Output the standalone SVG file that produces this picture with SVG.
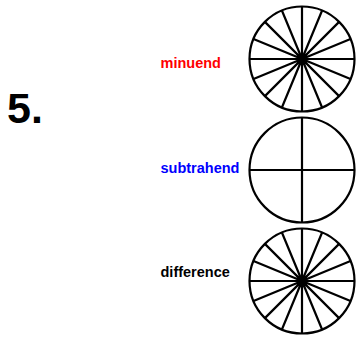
<svg xmlns="http://www.w3.org/2000/svg" xmlns:xlink="http://www.w3.org/1999/xlink" width="356" height="337" viewBox="0 0 356 337">
<style>
.lbl{font-family:"Liberation Sans",Arial,sans-serif;font-weight:bold;font-size:14.5px}
.rim{fill:none;stroke:#000;stroke-width:2.2}
.sp{stroke:#000;stroke-width:2.2;fill:none}
</style>
<defs>
<g id="wheel16">
<circle class="rim" r="52.5"/>
<path class="sp" d="M0,-52.5V52.5M-52.5,0H52.5M-20.1,-48.5L20.1,48.5M20.1,-48.5L-20.1,48.5M-37.1,-37.1L37.1,37.1M37.1,-37.1L-37.1,37.1M-48.5,-20.1L48.5,20.1M48.5,-20.1L-48.5,20.1"/>
<circle r="4" fill="#000"/>
</g>
</defs>
<rect width="356" height="337" fill="#fff"/>
<text class="lbl" x="7" y="123" style="font-size:43px">5.</text>
<g id="minuend">
<text class="lbl" x="160.5" y="67.5" fill="#ff0000">minuend</text>
<use xlink:href="#wheel16" x="302" y="59"/>
</g>
<g id="subtrahend">
<text class="lbl" x="160.5" y="172.5" fill="#0000ff">subtrahend</text>
<circle class="rim" cx="302" cy="170" r="52.5"/>
<path class="sp" d="M302,117.5V222.5M249.5,170H354.5"/>
</g>
<g id="difference">
<text class="lbl" x="160.5" y="277" fill="#000">difference</text>
<use xlink:href="#wheel16" x="302" y="281"/>
</g>
<g id="connectors"></g>
</svg>
